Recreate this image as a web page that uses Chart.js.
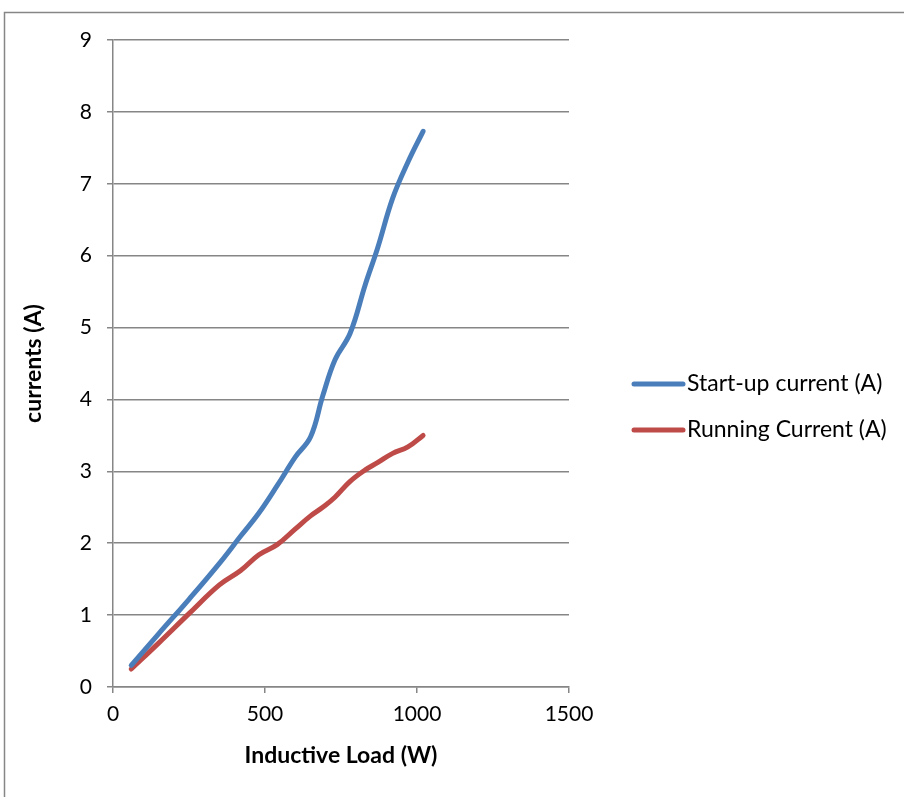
<!DOCTYPE html>
<html>
<head>
<meta charset="utf-8">
<script src="https://cdn.jsdelivr.net/npm/chart.js@4"></script>
<style>
  html, body { margin: 0; padding: 0; background: #fff; }
  #wrap { position: relative; width: 904px; height: 797px; }
</style>
</head>
<body>
<div id="wrap"><canvas id="myChart" width="904" height="797"></canvas></div>
<script>
// inductive load (W)
const loads = [60, 150, 250, 350, 420, 480, 540, 600, 650, 690, 730, 780, 830, 870, 920, 970, 1020];
const startupCurrent = [0.30, 0.74, 1.22, 1.72, 2.10, 2.42, 2.80, 3.20, 3.48, 4.05, 4.55, 4.92, 5.60, 6.10, 6.80, 7.30, 7.73];
const runningCurrent = [0.25, 0.61, 1.02, 1.42, 1.62, 1.84, 1.98, 2.20, 2.38, 2.50, 2.64, 2.86, 3.02, 3.12, 3.25, 3.34, 3.50];
const seriesNames = ["Start-up current (A)", "Running Current (A)"];
const xTicks = [0, 500, 1000, 1500];
const yTicks = [0, 1, 2, 3, 4, 5, 6, 7, 8, 9];

const FONT = "Lato";
const gridColor = "#868686";

function toPoints(xs, ys) {
    return xs.map((x, i) => ({ x: x, y: ys[i] }));
}

var ctx = document.getElementById("myChart").getContext("2d");

var myChart = new Chart(ctx, {
    type: "line",
    data: {
        datasets: [
            {
                label: seriesNames[0],
                data: toPoints(loads, startupCurrent),
                borderColor: "#4A7EBB",
                backgroundColor: "#4A7EBB",
                borderWidth: 5,
                pointRadius: 0,
                tension: 0.4,
                borderCapStyle: "round",
            },
            {
                label: seriesNames[1],
                data: toPoints(loads, runningCurrent),
                borderColor: "#BE4B48",
                backgroundColor: "#BE4B48",
                borderWidth: 5,
                pointRadius: 0,
                tension: 0.4,
                borderCapStyle: "round",
            },
        ],
    },
    options: {
        responsive: false,
        maintainAspectRatio: false,
        animation: false,
        layout: { padding: { left: 0, right: 335, top: 40, bottom: 0 } },
        plugins: {
            legend: { display: false },
            tooltip: { enabled: false },
        },
        scales: {
            x: {
                type: "linear",
                min: 0,
                max: 1500,
                afterBuildTicks: function (scale) {
                    scale.ticks = xTicks.map((v) => ({ value: v }));
                },
                afterFit: function (scale) {
                    scale.height = 110;
                },
                grid: {
                    drawOnChartArea: false,
                    drawTicks: true,
                    tickLength: 6,
                    color: gridColor,
                    lineWidth: 1.5,
                },
                border: { display: true, color: gridColor, width: 1.5 },
                ticks: {
                    color: "#000",
                    font: { family: FONT, size: 21 },
                    padding: 9,
                    maxRotation: 0,
                    callback: function (v) {
                        return String(v);
                    },
                },
                title: {
                    display: true,
                    text: "Inductive Load (W)",
                    color: "#000",
                    font: { family: FONT, size: 23, weight: "bold" },
                    padding: { top: 0, bottom: 28 },
                },
            },
            y: {
                type: "linear",
                min: 0,
                max: 9,
                afterBuildTicks: function (scale) {
                    scale.ticks = yTicks.map((v) => ({ value: v }));
                },
                afterFit: function (scale) {
                    scale.width = 113;
                },
                grid: {
                    drawTicks: true,
                    tickLength: 6,
                    color: gridColor,
                    lineWidth: 1.5,
                },
                border: { display: true, color: gridColor, width: 1.5 },
                ticks: {
                    color: "#000",
                    font: { family: FONT, size: 21 },
                    padding: 15,
                },
                title: {
                    display: true,
                    text: "currents (A)",
                    color: "#000",
                    font: { family: FONT, size: 23, weight: "bold" },
                    padding: { top: 20, bottom: 0 },
                },
            },
        },
    },
    plugins: [
        {
            id: "frameAndLegend",
            beforeDraw: function (chart) {
                const c = chart.ctx;
                c.save();
                c.fillStyle = "#fff";
                c.fillRect(0, 0, chart.width, chart.height);
                c.strokeStyle = gridColor;
                c.lineWidth = 1.5;
                c.beginPath();
                c.moveTo(4.5, chart.height);
                c.lineTo(4.5, 12.5);
                c.lineTo(chart.width, 12.5);
                c.stroke();
                c.restore();
            },
            afterDraw: function (chart) {
                const c = chart.ctx;
                c.save();
                c.font = "23px " + FONT;
                c.textBaseline = "middle";
                c.textAlign = "left";
                chart.data.datasets.forEach(function (ds, i) {
                    const y = 384 + i * 46;
                    c.strokeStyle = ds.borderColor;
                    c.lineWidth = 5;
                    c.lineCap = "round";
                    c.beginPath();
                    c.moveTo(634, y);
                    c.lineTo(683, y);
                    c.stroke();
                    c.fillStyle = "#000";
                    c.fillText(ds.label, 687, y);
                });
                c.restore();
            },
        },
    ],
});
</script>
</body>
</html>
